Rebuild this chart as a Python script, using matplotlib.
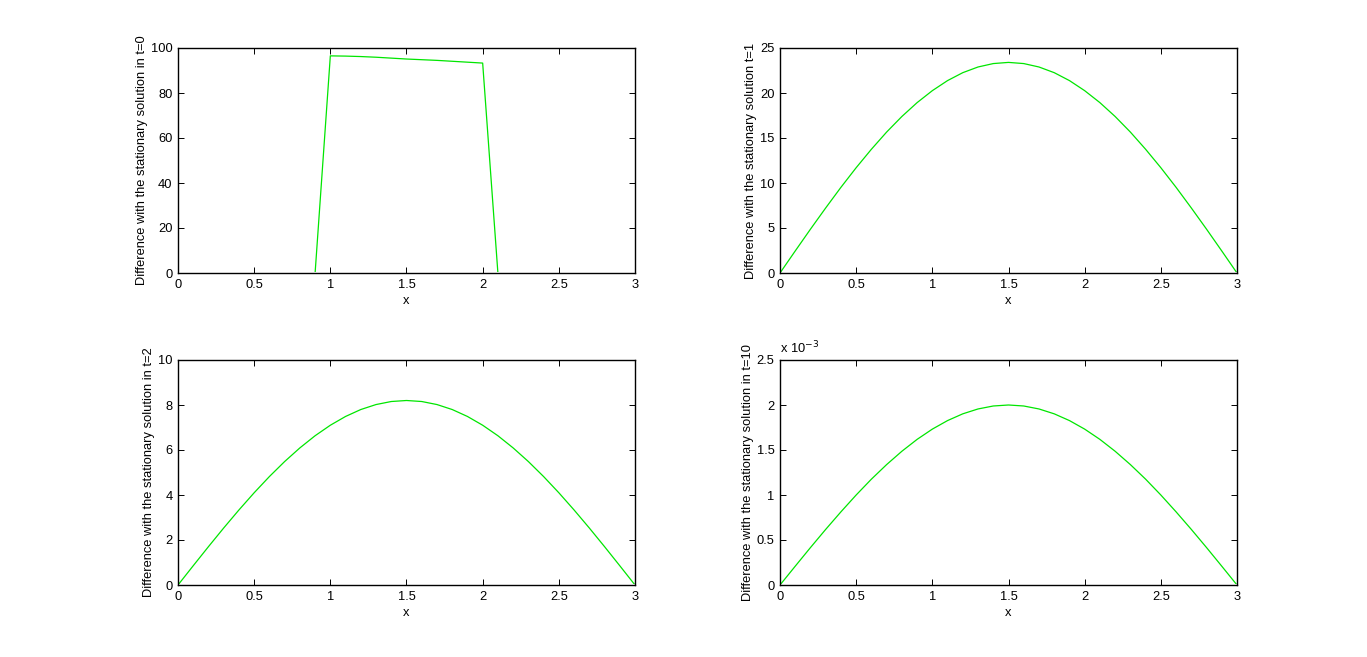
import matplotlib
matplotlib.use("Agg")
import matplotlib.pyplot as plt
from matplotlib.ticker import FuncFormatter
from matplotlib.transforms import Bbox, TransformedBbox

plt.rcParams['font.family'] = ['Liberation Sans', 'DejaVu Sans']
plt.rcParams['font.size'] = 9.3

x = [i / 10 for i in range(31)]

# t=0 : initial bump
d0 = [0, 0, 0, 0, 0, 0, 0, 0, 0, 0,
      96.5, 96.4, 96.2, 95.9, 95.5, 95.1, 94.8, 94.5, 94.1, 93.7, 93.3,
      0, 0, 0, 0, 0, 0, 0, 0, 0, 0]
# t=1
d1 = [0, 2.45, 4.87, 7.23, 9.52, 11.7, 13.75, 15.66, 17.39, 18.93, 20.26,
      21.38, 22.26, 22.89, 23.27, 23.4, 23.27, 22.89, 22.26, 21.38, 20.26,
      18.93, 17.39, 15.66, 13.75, 11.7, 9.52, 7.23, 4.87, 2.45, 0]
# t=2
d2 = [0, 0.857, 1.705, 2.534, 3.335, 4.1, 4.82, 5.487, 6.093, 6.634, 7.101,
      7.491, 7.799, 8.02, 8.155, 8.2, 8.155, 8.02, 7.799, 7.491, 7.101,
      6.634, 6.093, 5.487, 4.82, 4.1, 3.335, 2.534, 1.705, 0.857, 0]
# t=10 (x 1e-3)
d10 = [0, 0.209, 0.416, 0.618, 0.813, 1.0, 1.176, 1.338, 1.486, 1.618, 1.732,
       1.827, 1.902, 1.956, 1.989, 2.0, 1.989, 1.956, 1.902, 1.827, 1.732,
       1.618, 1.486, 1.338, 1.176, 1.0, 0.813, 0.618, 0.416, 0.209, 0]
d10 = [v * 1e-3 for v in d10]

series = [d0, d1, d2, d10]
ylabels = ['Difference with the stationary solution in t=0',
           'Difference with the stationary solution t=1',
           'Difference with the stationary solution in t=2',
           'Difference with the stationary solution in t=10']
ylims = [(0, 100), (0, 25), (0, 10), (0, 2.5e-3)]
yticks = [[0, 20, 40, 60, 80, 100], [0, 5, 10, 15, 20, 25],
          [0, 2, 4, 6, 8, 10], [0, 0.5e-3, 1e-3, 1.5e-3, 2e-3, 2.5e-3]]

fig = plt.figure(figsize=(13.67, 6.57), dpi=100)
W, H = 1367, 657
boxes = [(178, 48), (780, 48), (178, 360), (780, 360)]
aw, ah = 457, 225

for k in range(4):
    left, top = boxes[k]
    ax = fig.add_axes([left / W, 1 - (top + ah) / H, aw / W, ah / H])
    line, = ax.plot(x, series[k], color=(0, 0.9, 0), lw=0.9, zorder=2)
    # hide the part lying on the bottom axis, as in the original
    line.set_clip_box(TransformedBbox(Bbox([[0, 0.006], [1, 1]]), ax.transAxes))
    ax.set_xlim(0, 3)
    ax.set_ylim(*ylims[k])
    ax.set_xticks([0, 0.5, 1, 1.5, 2, 2.5, 3])
    ax.set_yticks(yticks[k])
    ax.xaxis.set_major_formatter(FuncFormatter(lambda v, p: '%g' % v))
    if k == 3:
        ax.yaxis.set_major_formatter(FuncFormatter(lambda v, p: '%g' % round(v * 1e3, 3)))
        ax.text(0, 1.015, 'x 10$^{-3}$', transform=ax.transAxes, fontsize=9.3,
                ha='left', va='bottom')
    else:
        ax.yaxis.set_major_formatter(FuncFormatter(lambda v, p: '%g' % v))
    ax.tick_params(direction='in', top=True, right=True, length=4, width=0.7,
                   pad=4, labelsize=9.3)
    for s in ax.spines.values():
        s.set_linewidth(1.0)
        s.set_zorder(3)
    ax.set_xlabel('x', labelpad=3)
    ax.set_ylabel(ylabels[k], labelpad=2)

fig.savefig('out.png', dpi=100)
